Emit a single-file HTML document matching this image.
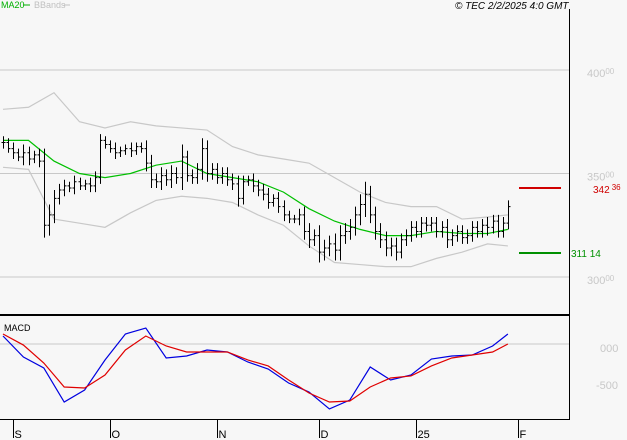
<!DOCTYPE html>
<html><head><meta charset="utf-8"><style>
body{margin:0;background:#f7f7f7;}
svg{display:block;font-family:"Liberation Sans",sans-serif;}
</style></head><body>
<svg id="c" width="627" height="440" viewBox="0 0 627 440">
<rect width="627" height="440" fill="#f7f7f7"/>
<text x="1" y="8" font-size="9" fill="#00b000">MA20</text>
<line x1="23" y1="5" x2="30" y2="5" stroke="#00b000"/>
<text x="34" y="8" font-size="9" fill="#c0c0c0">BBands</text>
<line x1="64" y1="5" x2="70" y2="5" stroke="#c0c0c0"/>
<text x="455" y="9" font-size="10" font-style="italic" fill="#000">© TEC 2/2/2025 4:0 GMT</text>
<line x1="569.5" y1="9" x2="569.5" y2="420" stroke="#000"/>
<line x1="0" y1="315" x2="569" y2="315" stroke="#000" stroke-width="2"/>
<line x1="0" y1="419.5" x2="569" y2="419.5" stroke="#000"/>
<g id="grid"></g><g id="bands"></g><g id="bars"></g><g id="macd"></g><g id="xaxis"></g>
<line x1="519" y1="188" x2="561" y2="188" stroke="#d00000" stroke-width="2"/>
<text x="593" y="193" font-size="10" fill="#d00000">342<tspan font-size="8" dy="-3" dx="2">36</tspan></text>
<line x1="519" y1="253" x2="561" y2="253" stroke="#009000" stroke-width="2"/>
<text x="571" y="257" font-size="10" fill="#009000">311 14</text>
<text x="4" y="331" font-size="9" fill="#000">MACD</text>
</svg>
<script>
const closes=[365,362,360,358,360,357,359,356,325,330,338,342,344,343,346,344,345,344,348,366,364,362,360,361,362,361,363,362,355,347,346,349,347,350,348,358,349,348,352,362,350,352,348,350,347,345,338,346,347,344,342,340,336,338,334,330,328,328,330,322,318,320,312,314,316,313,320,322,324,330,335,340,330,322,318,314,315,312,318,320,324,322,326,325,326,322,324,318,320,322,319,320,324,322,325,324,327,322,326,334];
const ranges=[3,2,3,2,4,3,2,3,6,5,4,3,3,2,3,2,2,3,3,3,2,2,3,2,2,3,2,2,4,4,3,4,3,4,3,6,3,3,3,5,4,3,3,3,3,3,4,3,2,3,3,3,3,2,3,3,2,2,3,4,4,3,5,4,4,5,5,4,4,4,5,6,4,4,4,4,4,4,3,3,3,3,3,3,3,3,3,4,3,3,3,3,3,3,3,4,3,3,3,3];
const lineIdx=[0,5,10,15,20,25,30,35,40,45,50,55,60,65,70,75,80,85,90,95,99];
const ma20=[366,366,356,350,348,350,354,356,350,348,346,341,333,327,323,320,320,322,321,321,323];
const upperBand=[381,382,389,375,372,375,373,372,371,363,359,357,355,348,341,336,334,334,328,329,330];
const lowerBand=[353,352,328,326,324,331,337,339,338,336,330,325,315,307,306,305,305,309,312,316,315];
const macdIdx=[0,4,8,12,16,20,24,28,32,36,40,44,48,52,56,60,64,68,72,76,80,84,88,92,96,99];
const macdLine=[108,-176,-324,-784,-622,-216,135,216,-189,-162,-81,-108,-243,-338,-527,-649,-878,-757,-311,-486,-419,-203,-162,-149,-27,135];
const signalLine=[135,-14,-257,-581,-595,-419,-81,108,-27,-108,-108,-108,-216,-297,-486,-662,-784,-770,-581,-459,-432,-297,-189,-149,-108,0];
const priceTicks=[400,350,300];
const macdTicks=[0,-500];
const monthLabels=["S","O","N","D","25","F"];
const monthIdx=[2,21,42,62,81,101];

const NS="http://www.w3.org/2000/svg";
const X=i=>3+i*5.1;
const Y=p=>70+(400-p)*2.07;
const MY=v=>344-v*0.074;
function mk(parent,tag,attrs){const e=document.createElementNS(NS,tag);for(const k in attrs)e.setAttribute(k,attrs[k]);document.getElementById(parent).appendChild(e);return e;}
priceTicks.forEach(t=>{
 const l=mk('grid','line',{x1:0,x2:569,y1:Y(t),y2:Y(t),stroke:'#c8c8c8'});
 
 
 const tx=mk('grid','text',{x:587,y:Y(t)+7,'font-size':11,fill:'#c8c8c8'});
 tx.innerHTML=t+'<tspan font-size="8" dy="-3">00</tspan>';
 
 
});
macdTicks.forEach(t=>{
 if(t===0){const l=mk('grid','line',{x1:0,x2:569,y1:MY(t),y2:MY(t),stroke:'#c8c8c8'});
 
 }
 const tx=mk('grid','text',{x:t===0?600:596,y:MY(t)+8,'font-size':11,fill:'#c8c8c8'});
 tx.textContent=t===0?'000':String(t);
 
 
});
function poly(g,idx,vals,sy,color,name){
 const p=mk(g,'polyline',{points:idx.map((i,k)=>X(i)+','+sy(vals[k])).join(' '),fill:'none',stroke:color,'stroke-width':1.2});
 
 
}
poly('bands',lineIdx,upperBand,Y,'#c8c8c8','upper-bband');
poly('bands',lineIdx,lowerBand,Y,'#c8c8c8','lower-bband');
poly('bands',lineIdx,ma20,Y,'#00c000','ma20-line');
closes.forEach((c,i)=>{
 const o=i>0?closes[i-1]:c;
 const hi=Math.max(o,c)+ranges[i], lo=Math.min(o,c)-ranges[i];
 const x=Math.round(X(i))+0.5;
 const b=mk('bars','path',{d:`M${x} ${Y(hi)}V${Y(lo)}M${x-2} ${Y(o)}H${x}M${x} ${Y(c)}H${x+2}`,stroke:'#000','stroke-width':1,fill:'none'});
 
 
});
poly('macd',macdIdx,macdLine,MY,'#0000e0','macd-line');
poly('macd',macdIdx,signalLine,MY,'#e00000','signal-line');
monthLabels.forEach((m,k)=>{
 const x=Math.round(X(monthIdx[k]))+0.5;
 const l=mk('xaxis','line',{x1:x,x2:x,y1:420,y2:438,stroke:'#000'});
 
 
 const t=mk('xaxis','text',{x:x+1,y:438,'font-size':11,fill:'#000'});
 t.textContent=m;
 
 
});
</script>
</body></html>
